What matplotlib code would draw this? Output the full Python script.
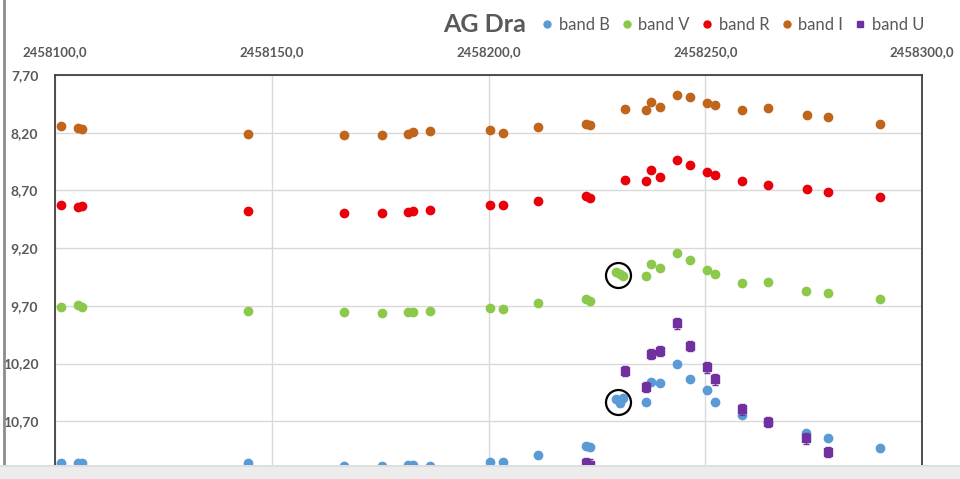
import matplotlib
matplotlib.use("Agg")
import matplotlib.pyplot as plt
from matplotlib.ticker import FixedLocator, FuncFormatter
from matplotlib.patches import Rectangle
from matplotlib.lines import Line2D

# Julian dates and magnitudes
jd_ir = [2458101.3, 2458105.2, 2458106.3, 2458144.5, 2458166.6, 2458175.5, 2458181.5,
         2458182.5, 2458186.6, 2458200.4, 2458203.4, 2458211.5, 2458222.4, 2458223.4,
         2458231.4, 2458236.4, 2458237.4, 2458239.5, 2458243.4, 2458246.4, 2458250.4,
         2458252.3, 2458258.5, 2458264.4, 2458273.5, 2458278.3, 2458290.4]
mag_i = [8.142, 8.157, 8.171, 8.211, 8.217, 8.217, 8.211, 8.194, 8.183, 8.177, 8.200,
         8.148, 8.122, 8.131, 7.992, 8.003, 7.934, 7.975, 7.876, 7.893, 7.945, 7.957,
         8.003, 7.986, 8.049, 8.061, 8.125]
mag_r = [8.827, 8.841, 8.835, 8.876, 8.893, 8.899, 8.890, 8.879, 8.870, 8.824, 8.829,
         8.795, 8.749, 8.766, 8.610, 8.616, 8.523, 8.581, 8.437, 8.477, 8.541, 8.564,
         8.621, 8.656, 8.688, 8.714, 8.760]

jd_vb = [2458101.3, 2458105.2, 2458106.3, 2458144.5, 2458166.6, 2458175.5, 2458181.5,
         2458182.5, 2458186.6, 2458200.4, 2458203.4, 2458211.5, 2458222.4, 2458223.4,
         2458229.4, 2458230.4, 2458231.1, 2458236.4, 2458237.4, 2458239.5, 2458243.4,
         2458246.4, 2458250.4, 2458252.3, 2458258.5, 2458264.4, 2458273.3, 2458278.3,
         2458290.4]
mag_v = [9.708, 9.696, 9.708, 9.743, 9.757, 9.763, 9.757, 9.751, 9.743, 9.722, 9.728,
         9.673, 9.644, 9.656, 9.405, 9.427, 9.439, 9.445, 9.335, 9.372, 9.245, 9.300,
         9.387, 9.427, 9.503, 9.494, 9.569, 9.592, 9.639]
mag_b = [11.059, 11.059, 11.062, 11.065, 11.090, 11.085, 11.080, 11.078, 11.090, 11.056,
         11.056, 10.993, 10.912, 10.926, 10.511, 10.545, 10.500, 10.536, 10.360, 10.369,
         10.204, 10.337, 10.433, 10.531, 10.646, 10.710, 10.805, 10.843, 10.935]

jd_u = [2458222.4, 2458223.4, 2458231.5, 2458236.4, 2458237.4, 2458239.5, 2458243.4,
        2458246.4, 2458250.4, 2458252.3, 2458258.5, 2458264.4, 2458273.3, 2458278.3]
mag_u = [11.065, 11.075, 10.265, 10.401, 10.118, 10.089, 9.852, 10.048, 10.233, 10.337,
         10.597, 10.704, 10.848, 10.964]

# circled points (flare epochs)
circle_jd = [2458229.8, 2458229.8]
circle_mag = [9.431, 10.534]

x_ticks = [2458100, 2458150, 2458200, 2458250, 2458300]
y_ticks = [7.70, 8.20, 8.70, 9.20, 9.70, 10.20, 10.70, 11.20]

c_b = "#5b9bd5"
c_v = "#8cc84b"
c_r = "#e8000b"
c_i = "#c0651c"
c_u = "#7030a0"
c_txt = "#595959"

plt.rcParams['font.family'] = ['Lato', 'DejaVu Sans']

fig = plt.figure(figsize=(9.6, 4.79), dpi=100)
ax = fig.add_axes([55 / 960, 0.0, (922 - 55) / 960, 1 - 75 / 479])

ax.errorbar(jd_vb, mag_b, yerr=0.02, fmt='o', color=c_b, ms=6, capsize=2,
            elinewidth=1, mec=c_b, label="band B", zorder=3)
ax.plot(jd_vb, mag_v, 'o', color=c_v, ms=6, label="band V", zorder=3)
ax.plot(jd_ir, mag_r, 'o', color=c_r, ms=6, label="band R", zorder=3)
ax.plot(jd_ir, mag_i, 'o', color=c_i, ms=6, label="band I", zorder=3)
ax.errorbar(jd_u, mag_u, yerr=0.045, fmt='s', color=c_u, ms=5.5, capsize=2.5,
            elinewidth=1, mec=c_u, label="band U", zorder=4)

ax.plot(circle_jd, circle_mag, 'o', ms=18, mfc='none', mec='black', mew=1.6, zorder=5)

ax.set_xlim(2458100, 2458300)
ax.set_ylim(11.20, 7.70)
ax.xaxis.set_major_locator(FixedLocator(x_ticks))
ax.yaxis.set_major_locator(FixedLocator(y_ticks))
ax.xaxis.set_major_formatter(FuncFormatter(lambda v, p: f"{v:.1f}".replace('.', ',')))
# the 11,20 label lies under the screenshot's bottom strip, so it is left blank
ax.yaxis.set_major_formatter(FuncFormatter(
    lambda v, p: "" if v > 11.1 else f"{v:.2f}".replace('.', ',')))
ax.xaxis.tick_top()
ax.tick_params(axis='both', length=0, labelsize=9.5, labelcolor=c_txt, pad=12)
ax.tick_params(axis='y', labelsize=10)
for lab in ax.get_xticklabels() + ax.get_yticklabels():
    lab.set_fontweight('bold')
ax.grid(True, color="#d9d9d9", linewidth=1)
ax.set_axisbelow(True)
for s in ax.spines.values():
    s.set_color("#404040")
    s.set_linewidth(1.3)

fig.text(443 / 960, 1 - 24 / 479, "AG Dra", fontsize=18, fontweight='bold',
         color=c_txt, va='center', ha='left')
handles = [Line2D([], [], ls='none', marker='o', color=c_b, ms=5),
           Line2D([], [], ls='none', marker='o', color=c_v, ms=5),
           Line2D([], [], ls='none', marker='o', color=c_r, ms=5),
           Line2D([], [], ls='none', marker='o', color=c_i, ms=5),
           Line2D([], [], ls='none', marker='s', color=c_u, ms=5)]
labels = ["band B", "band V", "band R", "band I", "band U"]
fig.legend(handles, labels, loc='center left', bbox_to_anchor=(543 / 960, 1 - 25 / 479),
           ncol=5, frameon=False, fontsize=11.9, labelcolor=c_txt, handlelength=0.5,
           handletextpad=0.45, columnspacing=0.8, borderpad=0, borderaxespad=0)

# chart-area left border and bottom shadow strip of the screenshot
fig.add_artist(Line2D([3.5 / 960, 3.5 / 960], [0, 1], color="#8c8c8c", lw=2))
fig.add_artist(Rectangle((0, 0), 1, 13 / 479, transform=fig.transFigure,
                         facecolor="#ececec", edgecolor='none', zorder=10))
fig.add_artist(Rectangle((0, 12 / 479), 1, 2 / 479, transform=fig.transFigure,
                         facecolor="#dedede", edgecolor='none', zorder=10))

fig.savefig("out.png", dpi=100)
